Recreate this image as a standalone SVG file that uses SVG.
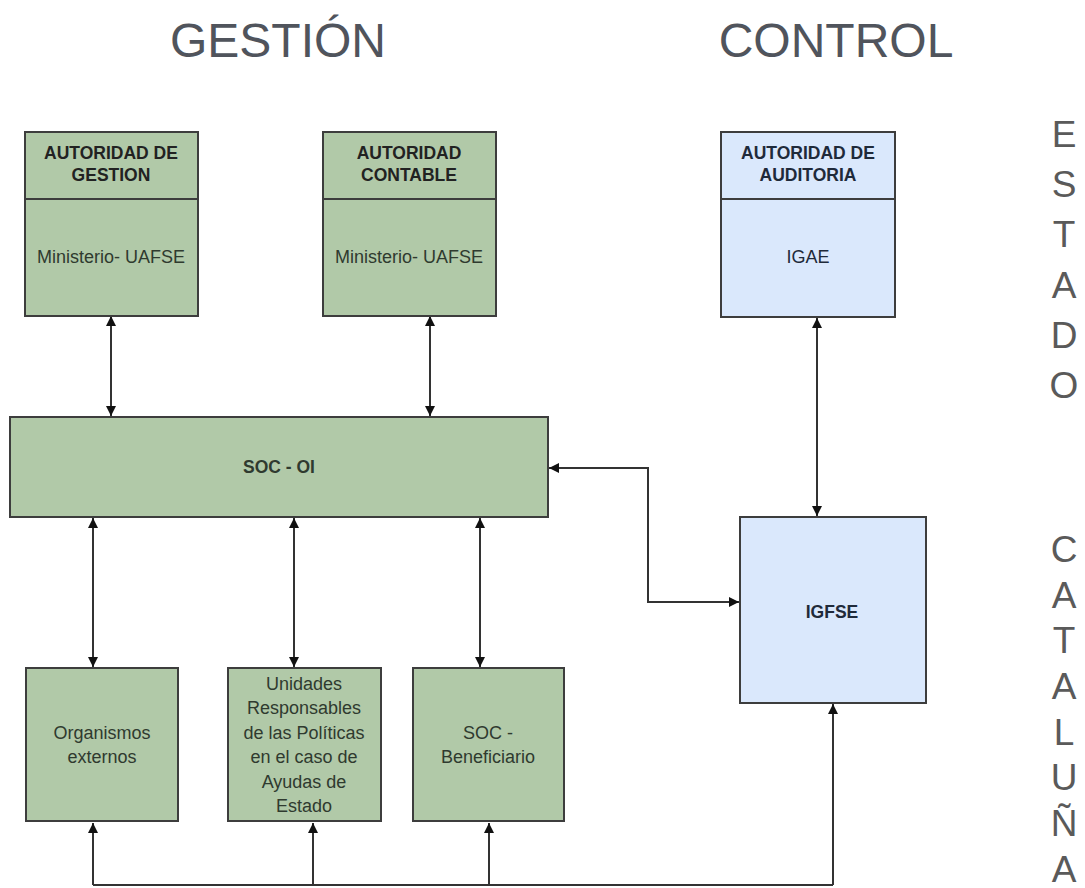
<svg xmlns="http://www.w3.org/2000/svg" width="1085" height="888" viewBox="0 0 1085 888">
<style>
.g{fill:#b1c9a8;stroke:#3d3d3d;stroke-width:2}
.b{fill:#dae8fc;stroke:#3d3d3d;stroke-width:2}
.t{font-family:"Liberation Sans",Arial,sans-serif;font-size:18px;fill:#2f3a2f;text-anchor:middle}
.h{font-family:"Liberation Sans",Arial,sans-serif;font-size:17.5px;font-weight:bold;fill:#222;text-anchor:middle}
.tb{fill:#1f2a3a}
.title{font-family:"Liberation Sans",Arial,sans-serif;font-size:48px;fill:#50545c;text-anchor:middle}
.side{font-family:"Liberation Sans",Arial,sans-serif;font-size:37px;fill:#5a5a5a;text-anchor:middle}
.c{fill:none;stroke:#333;stroke-width:2}
</style>
<defs>
<marker id="ah" viewBox="0 0 10 10" refX="10" refY="5" markerWidth="10" markerHeight="10" markerUnits="userSpaceOnUse" orient="auto-start-reverse">
<path d="M0,0 L10,5 L0,10 z" fill="#111"/>
</marker>
</defs>

<g id="titles">
<text class="title" x="278" y="57">GESTIÓN</text>
<text class="title" x="836" y="57">CONTROL</text>
</g>

<g id="side-estado">
<text class="side" x="1064" y="147">E</text>
<text class="side" x="1064" y="197">S</text>
<text class="side" x="1064" y="247">T</text>
<text class="side" x="1064" y="298">A</text>
<text class="side" x="1064" y="348">D</text>
<text class="side" x="1064" y="398">O</text>
</g>
<g id="side-cataluna">
<text class="side" x="1064" y="562">C</text>
<text class="side" x="1064" y="608">A</text>
<text class="side" x="1064" y="653">T</text>
<text class="side" x="1064" y="699">A</text>
<text class="side" x="1064" y="745">L</text>
<text class="side" x="1064" y="790">U</text>
<text class="side" x="1064" y="836">Ñ</text>
<text class="side" x="1064" y="882">A</text>
</g>

<g id="connectors">
<line class="c" x1="111" y1="316" x2="111" y2="416" marker-start="url(#ah)" marker-end="url(#ah)"/>
<line class="c" x1="430" y1="316" x2="430" y2="416" marker-start="url(#ah)" marker-end="url(#ah)"/>
<line class="c" x1="817" y1="318" x2="817" y2="516" marker-start="url(#ah)" marker-end="url(#ah)"/>
<line class="c" x1="93" y1="518" x2="93" y2="667" marker-start="url(#ah)" marker-end="url(#ah)"/>
<line class="c" x1="294" y1="518" x2="294" y2="667" marker-start="url(#ah)" marker-end="url(#ah)"/>
<line class="c" x1="480" y1="518" x2="480" y2="667" marker-start="url(#ah)" marker-end="url(#ah)"/>
<path class="c" d="M549,468 L648,468 L648,602 L739,602" marker-start="url(#ah)" marker-end="url(#ah)"/>
<path class="c" d="M93,885 L833,885"/>
<line class="c" x1="93" y1="885" x2="93" y2="823" marker-end="url(#ah)"/>
<line class="c" x1="313" y1="885" x2="313" y2="823" marker-end="url(#ah)"/>
<line class="c" x1="489" y1="885" x2="489" y2="823" marker-end="url(#ah)"/>
<line class="c" x1="833" y1="885" x2="833" y2="704" marker-end="url(#ah)"/>
</g>

<g id="autoridad-gestion">
<rect class="g" x="25" y="132" width="173" height="184"/>
<line x1="25" y1="199" x2="198" y2="199" stroke="#3d3d3d" stroke-width="2"/>
<text class="h" x="111" y="159">AUTORIDAD DE</text>
<text class="h" x="111" y="181">GESTION</text>
<text class="t" x="111" y="263">Ministerio- UAFSE</text>
</g>

<g id="autoridad-contable">
<rect class="g" x="323" y="132" width="173" height="184"/>
<line x1="323" y1="199" x2="496" y2="199" stroke="#3d3d3d" stroke-width="2"/>
<text class="h" x="409" y="159">AUTORIDAD</text>
<text class="h" x="409" y="181">CONTABLE</text>
<text class="t" x="409" y="263">Ministerio- UAFSE</text>
</g>

<g id="autoridad-auditoria">
<rect class="b" x="721" y="132" width="174" height="185"/>
<line x1="721" y1="199" x2="895" y2="199" stroke="#3d3d3d" stroke-width="2"/>
<text class="h tb" x="808" y="159">AUTORIDAD DE</text>
<text class="h tb" x="808" y="181">AUDITORIA</text>
<text class="t tb" x="808" y="263">IGAE</text>
</g>

<g id="soc-oi">
<rect class="g" x="10" y="417" width="538" height="100"/>
<text class="h" x="279" y="473" style="fill:#2f3a2f">SOC - OI</text>
</g>

<g id="igfse">
<rect class="b" x="740" y="517" width="186" height="186"/>
<text class="h tb" x="832" y="618">IGFSE</text>
</g>

<g id="organismos-externos">
<rect class="g" x="26" y="668" width="152" height="153"/>
<text class="t" x="102" y="739">Organismos</text>
<text class="t" x="102" y="763">externos</text>
</g>

<g id="unidades-responsables">
<rect class="g" x="228" y="668" width="153" height="153"/>
<text class="t" x="304" y="690">Unidades</text>
<text class="t" x="304" y="714">Responsables</text>
<text class="t" x="304" y="739">de las Políticas</text>
<text class="t" x="304" y="763">en el caso de</text>
<text class="t" x="304" y="788">Ayudas de</text>
<text class="t" x="304" y="812">Estado</text>
</g>

<g id="soc-beneficiario">
<rect class="g" x="413" y="668" width="151" height="153"/>
<text class="t" x="488" y="739">SOC -</text>
<text class="t" x="488" y="763">Beneficiario</text>
</g>
</svg>
